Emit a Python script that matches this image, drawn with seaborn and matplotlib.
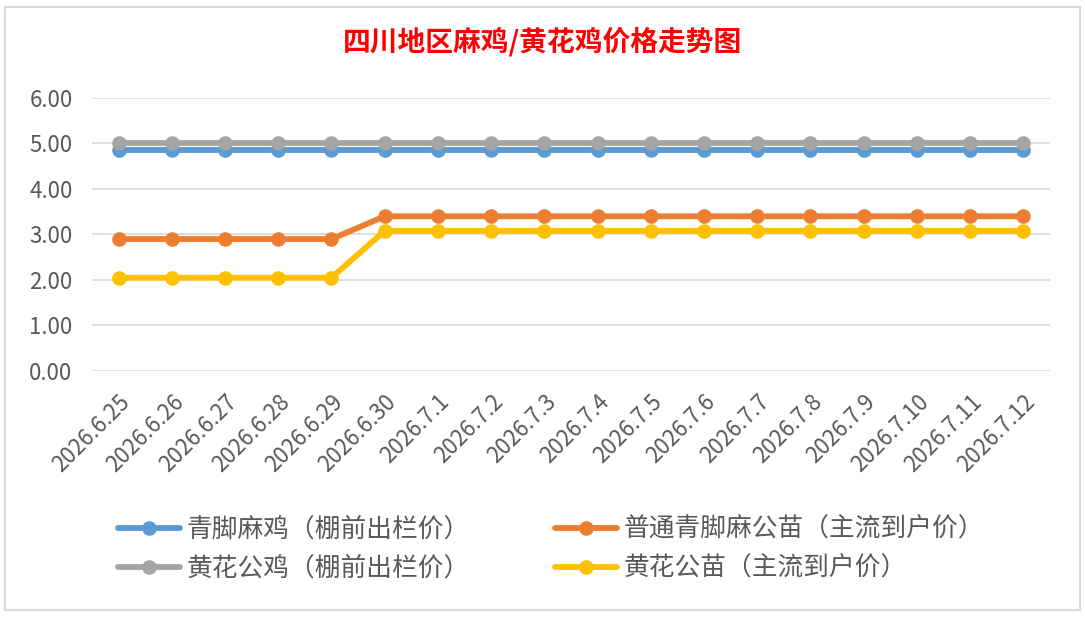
import pandas as pd
import seaborn as sns
import matplotlib.pyplot as plt
from matplotlib.patches import Rectangle

# dates on the category axis
dates = ['2026.6.25', '2026.6.26', '2026.6.27', '2026.6.28', '2026.6.29', '2026.6.30',
         '2026.7.1', '2026.7.2', '2026.7.3', '2026.7.4', '2026.7.5', '2026.7.6',
         '2026.7.7', '2026.7.8', '2026.7.9', '2026.7.10', '2026.7.11', '2026.7.12']

# prices
qingjiao_ma = [4.85] * 18
putong_gongmiao = [2.9] * 5 + [3.4] * 13
huanghua_gongji = [5.0] * 18
huanghua_gongmiao = [2.05] * 5 + [3.08] * 13

names = ['青脚麻鸡（棚前出栏价）', '普通青脚麻公苗（主流到户价）',
         '黄花公鸡（棚前出栏价）', '黄花公苗（主流到户价）']
colors = ['#5B9BD5', '#ED7D31', '#A5A5A5', '#FFC000']

frames = []
for name, vals in zip(names, [qingjiao_ma, putong_gongmiao, huanghua_gongji, huanghua_gongmiao]):
    frames.append(pd.DataFrame({'date': dates, 'idx': range(len(dates)), 'price': vals, 'series': name}))
df = pd.concat(frames, ignore_index=True)

sns.set_style('white')
plt.rcParams['font.family'] = ['Noto Sans CJK SC', 'DejaVu Sans']

fig = plt.figure(figsize=(10.85, 6.17), dpi=100)
ax = fig.add_axes([0.0848, 0.3987, 0.8829, 0.4425])

sns.lineplot(data=df, x='idx', y='price', hue='series', hue_order=names,
             palette=colors, marker='o', markersize=10.5, markeredgewidth=0,
             linewidth=4.2, ax=ax, legend=False, zorder=3)

ax.set_xlim(-0.5, len(dates) - 0.5)
ax.set_ylim(0, 6)
ax.set_yticks(range(0, 7))
ax.set_yticklabels([f'{v:.2f}' for v in range(0, 7)])
ax.set_xticks(range(len(dates)))
ax.set_xticklabels(dates, rotation=45, ha='right', rotation_mode='anchor')
ax.tick_params(axis='both', length=0, labelsize=16, colors='#595959')
ax.tick_params(axis='x', pad=14)
ax.tick_params(axis='y', pad=14)
ax.set_xlabel('')
ax.set_ylabel('')
ax.grid(axis='y', color='#D9D9D9', linewidth=1.2)
ax.set_axisbelow(True)
for s in ax.spines.values():
    s.set_visible(False)

fig.text(0.5, 0.932, '四川地区麻鸡/黄花鸡价格走势图', ha='center', va='center',
         fontsize=20, fontweight='bold', color='#FF0000')

handles = [plt.Line2D([], [], color=c, linewidth=4.2, marker='o', markersize=10.5,
                      markeredgewidth=0) for c in colors]
# legend fills column-wise, so reorder to get row-wise layout
order = [0, 2, 1, 3]
leg = fig.legend([handles[i] for i in order], [names[i] for i in order], ncol=2,
                 loc='center left', bbox_to_anchor=(0.1088, 0.110), frameon=False,
                 fontsize=18.5, handlelength=2.4, handletextpad=0.25,
                 columnspacing=3.35, labelspacing=0.5, borderpad=0, borderaxespad=0)
for t in leg.get_texts():
    t.set_color('#595959')

fig.patches.append(Rectangle((0.005, 0.012), 0.99, 0.976, transform=fig.transFigure,
                             fill=False, edgecolor='#D9D9D9', linewidth=1.5))

fig.savefig('out.png', dpi=100)
